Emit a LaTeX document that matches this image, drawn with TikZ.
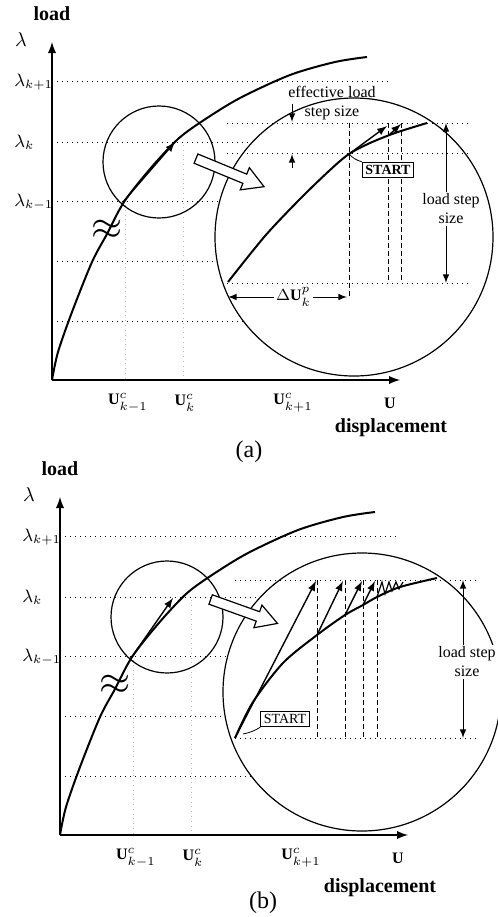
\documentclass[tikz,border=0pt]{standalone}
\usepackage{fontspec}
\setmainfont{Liberation Serif}
\usetikzlibrary{shapes.arrows}

\begin{document}
\begin{tikzpicture}[x=0.5pt, y=-0.5pt, >=latex,
    grid/.style={dotted, line width=0.5pt},
    faint/.style={dotted, gray!55, line width=0.4pt},
    drop/.style={dash pattern=on 2.5pt off 1.5pt, line width=0.5pt},
    lens/.style={circle, draw, line width=0.6pt, inner sep=0pt},
    curve/.style={line width=1pt},
    iter/.style={->, line width=0.7pt},
    bigarrow/.style={single arrow, draw, fill=white, line width=0.6pt,
                     inner sep=2.2pt, single arrow head extend=3.5pt,
                     single arrow tip angle=60},
    startbox/.style={draw, fill=white, inner sep=1.5pt, line width=0.5pt},
    lbl/.style={font=\footnotesize, align=center, inner sep=1pt},
    tick/.style={font=\footnotesize},
    lev/.style={font=\small, anchor=west, inner sep=0pt},
    axlbl/.style={font=\bfseries}]
  \useasboundingbox (0,0) rectangle (498,917);

  % the parts both panels share
  \foreach \pn/\dx/\dy in {a/0/0, b/8/455} {
    \begin{scope}[shift={(\dx,\dy)}]
      \coordinate (O\pn) at (52,380);
      \coordinate (ytip\pn) at (52,42);
      \coordinate (xtip\pn) at (400,380);
      \foreach \yy in {81,142,201,261,321}
        \draw[grid] (52,\yy) -- (388,\yy);
      \draw[faint] (125,205) -- (125,380);
      \draw[faint] (183,145) -- (183,380);
      \draw[line width=0.9pt, ->] (O\pn) -- (ytip\pn);
      \draw[line width=0.9pt, ->] (O\pn) -- (xtip\pn);
      \draw[curve] plot[smooth] coordinates {(52,380) (58,352) (72,312)
        (92,262) (107,234) (124,202) (150,169) (178,139) (204,120)
        (240,98) (290,75) (335,62) (367,57)};
      \node[lens, minimum size=56pt] (small\pn) at (159,162) {};
      \node[lens, minimum size=139pt, fill=white] (big\pn) at (354,237) {};
      \node[scale=2, inner sep=0pt] (brk\pn) at (107,230) {$\approx$};
      \node[axlbl] (load\pn) at (52,14) {load};
      \node (lam\pn) at (21,40) {$\lambda$};
      \node[lev] (lk1\pn) at (14,82) {$\lambda_{k+1}$};
      \node[lev] (lk\pn) at (14,142) {$\lambda_{k}$};
      \node[lev] (lk0\pn) at (14,202) {$\lambda_{k-1}$};
      \node[tick] (uk0\pn) at (128,403) {$\mathbf{U}^{c}_{k-1}$};
      \node[tick] (uk\pn) at (185,403) {$\mathbf{U}^{c}_{k}$};
      \node[tick] (uk1\pn) at (293,403) {$\mathbf{U}^{c}_{k+1}$};
      \node[tick] (u\pn) at (390,403) {$\mathbf{U}$};
    \end{scope}
  }

  % panel (a)
  \node[axlbl] (dispa) at (391,428) {displacement};
  \node[font=\large] (capa) at (249,452) {(a)};
  \coordinate (pa0) at (123,202);
  \coordinate (pa1) at (175,142);
  \draw[iter] (pa0) -- (pa1);
  \node[bigarrow, rotate=-22.4, minimum height=36.8pt] (zooma) at (226,171) {};
  \draw[curve] plot[smooth] coordinates {(228,282) (265,236) (300,199)
    (330,170) (349,154) (370,143) (395,133) (427,123)};
  \foreach \yy in {123,153,283}
    \draw[grid] (227,\yy) -- (468,\yy);
  \coordinate (sa) at (349,154);
  \coordinate (sa1) at (387,126);
  \coordinate (ca) at (389,135);
  \coordinate (ca1) at (401,124);
  \draw[drop] (349,123) -- (349,298);
  \draw[drop] (388,123) -- (388,283);
  \draw[drop] (401,123) -- (401,283);
  \draw[iter] (sa) -- (sa1);
  \draw[iter] (ca) -- (ca1);
  \node[startbox, font=\scriptsize\bfseries] (starta) at (388,170) {START};
  \draw (starta.north west) to[bend left=15] (sa);
  \coordinate (dua0) at (228,297);
  \coordinate (dua1) at (347,297);
  \draw[<->, line width=0.5pt] (dua0) -- node[fill=white, inner sep=1pt, pos=0.55, font=\footnotesize] (dua) {$\Delta\mathbf{U}^{p}_{k}$} (dua1);
  \node[lbl] (effa) at (332,103) {effective load\\step size};
  \coordinate (ea0) at (292,104);
  \coordinate (ea1) at (292,122);
  \coordinate (ea2) at (292,168);
  \coordinate (ea3) at (292,154);
  \draw[->, line width=0.5pt] (ea0) -- (ea1);
  \draw[->, line width=0.5pt] (ea2) -- (ea3);
  \coordinate (la0) at (446,123);
  \coordinate (la1) at (446,283);
  \draw[<->, line width=0.5pt] (la0) -- (la1);
  \node[lbl, fill=white] (stepa) at (451,209) {load step\\size};

  % panel (b)
  \node[axlbl] (dispb) at (380,888) {displacement};
  \node[font=\large] (capb) at (263,903) {(b)};
  \coordinate (pb0) at (131,658);
  \coordinate (pb1) at (173,598);
  \draw[iter] (pb0) -- (pb1);
  \node[bigarrow, rotate=-19.7, minimum height=35.5pt] (zoomb) at (240,610) {};
  \draw[curve] plot[smooth] coordinates {(235,738) (253,702) (283,663)
    (317,635) (345,615) (363,605) (377,597) (400,587) (437,578)};
  \foreach \yy in {580,738}
    \draw[grid] (235,\yy) -- (477,\yy);
  \foreach \xx in {317,345,363,377}
    \draw[drop] (\xx,580) -- (\xx,738);
  \coordinate (sb) at (235,738);
  \coordinate (b1) at (316,581);
  \coordinate (b2) at (317,635);
  \coordinate (b3) at (343,581);
  \coordinate (b4) at (345,615);
  \coordinate (b5) at (362,581);
  \coordinate (b6) at (363,605);
  \coordinate (b7) at (375,581);
  \draw[iter] (sb) -- (b1);
  \draw[iter] (b2) -- (b3);
  \draw[iter] (b4) -- (b5);
  \draw[iter] (b6) -- (b7);
  \draw[line width=0.6pt] (377,597) -- (382,582) -- (385,594) -- (389,582)
    -- (392,591) -- (396,582) -- (399,589) -- (403,582);
  \node[startbox, font=\scriptsize] (startb) at (285,719) {START};
  \draw (startb.south west) to[bend left=10] (243,734);
  \coordinate (lb0) at (463,580);
  \coordinate (lb1) at (463,738);
  \draw[<->, line width=0.5pt] (lb0) -- (lb1);
  \node[lbl, fill=white] (stepb) at (467,662) {load step\\size};
\end{tikzpicture}
\end{document}
